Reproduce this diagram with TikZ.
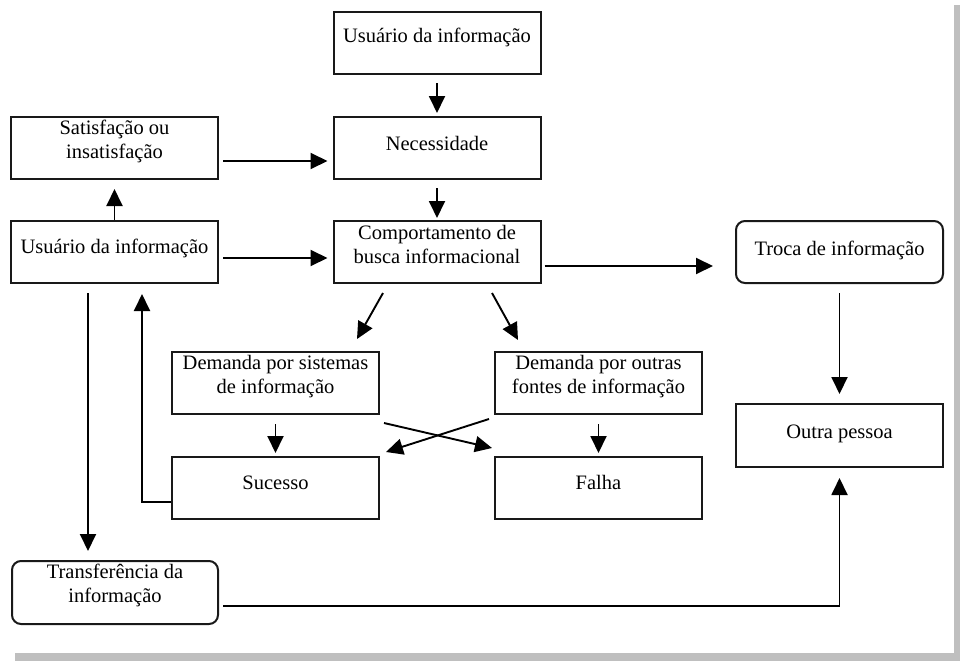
\documentclass[tikz,border=0pt]{standalone}
\usepackage{fontspec}
\setmainfont{Liberation Serif}
\usetikzlibrary{arrows.meta,calc}
\begin{document}
\begin{tikzpicture}[x=1pt,y=-1pt,
  font=\fontsize{20.5}{24}\selectfont,
  box/.style={draw=black!90,line width=2pt,inner sep=0pt,minimum width=207pt,align=center,text height=32pt,text depth=30pt},
  twoline/.style={text height=41pt,text depth=21pt},
  rbox/.style={box,rounded corners=9pt},
  arr/.style={line width=1.9pt,-{Triangle[length=17pt,width=16pt]}},
  ln/.style={line width=1.9pt}]
\useasboundingbox (0,0) rectangle (960,661);
\fill[black!25] (954,5) rectangle (960,661);
\fill[black!25] (15,653) rectangle (960,661);

\node[box,text height=31pt,text depth=31pt] (u1) at (437,43) {Usuário da informação};
\node[box,text height=33pt,text depth=29pt] (nec) at (437,148) {Necessidade};
\node[box,twoline,text depth=20pt,text height=42pt] (comp) at (437,252) {\begin{tabular}[b]{@{}c@{}}Comportamento de\\busca informacional\end{tabular}};
\node[box,twoline] (sat) at (114.5,148) {\begin{tabular}[b]{@{}c@{}}Satisfação ou\\insatisfação\end{tabular}};
\node[box] (u2) at (114.5,252) {Usuário da informação};
\node[rbox,text height=34pt,text depth=28pt] (troca) at (839.5,252) {Troca de informação};
\node[box,twoline] (dems) at (275.5,383) {\begin{tabular}[b]{@{}c@{}}Demanda por sistemas\\de informação\end{tabular}};
\node[box,twoline] (demo) at (598.5,383) {\begin{tabular}[b]{@{}c@{}}Demanda por outras\\fontes de informação\end{tabular}};
\node[box] (suc) at (275.5,488) {Sucesso};
\node[box] (fal) at (598.5,488) {Falha};
\node[box,text height=34pt,text depth=29pt] (outra) at (839.5,435.5) {Outra pessoa};
\node[rbox,twoline,text depth=22pt,minimum width=206pt] (transf) at (115,592.5) {\begin{tabular}[b]{@{}c@{}}Transferência da\\informação\end{tabular}};

\draw[arr,shorten <=8pt,shorten >=3pt] (u1.south) -- (nec.north);
\draw[arr,shorten <=8pt,shorten >=2pt] (nec.south) -- (comp.north);
\draw[arr,shorten <=4pt,shorten >=5pt] ([yshift=-13pt]sat.east) -- ([yshift=-13pt]nec.west);
\draw[arr,shorten <=4pt,shorten >=5pt] ([yshift=-6pt]u2.east) -- ([yshift=-6pt]comp.west);
\draw[arr,shorten >=9pt] (u2.north) -- (sat.south);
\draw[arr,shorten <=3pt,shorten >=22pt] ([yshift=-14pt]comp.east) -- ([yshift=-14pt]troca.west);
\draw[arr] ($(comp.south)+(-54,9)$) -- ($(dems.north)+(81.5,-12)$);
\draw[arr] ($(comp.south)+(55,9)$) -- ($(demo.north)+(-80.5,-11)$);
\draw[arr] ($(u2.south)+(-26.5,9)$) -- ($(transf.north)+(-27,-9)$);
\draw[arr] ($(suc.west)+(0,14)$) -| ($(u2.south)+(27.5,10)$);
\draw[arr,shorten <=9pt,shorten >=3pt] (dems.south) -- (suc.north);
\draw[arr,shorten <=9pt,shorten >=3pt] (demo.south) -- (fal.north);
\draw[arr] ($(dems.south east)+(4,8)$) -- ($(fal.north west)+(-2,-8)$);
\draw[arr] ($(demo.south west)+(-5,4)$) -- ($(suc.north east)+(6,-4)$);
\draw[arr,shorten <=9pt,shorten >=9pt] (troca.south) -- (outra.north);
\draw[arr] ($(transf.east)+(4,13.5)$) -| ($(outra.south)+(0,10)$);
\end{tikzpicture}
\end{document}
